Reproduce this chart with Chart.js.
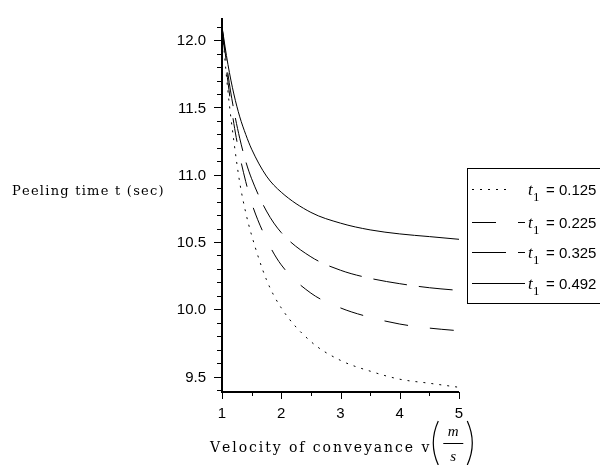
<!DOCTYPE html>
<html>
<head>
<meta charset="utf-8">
<script src="https://cdn.jsdelivr.net/npm/chart.js@4.4.1/dist/chart.umd.min.js"></script>
<style>
  html, body { margin: 0; padding: 0; background: #fff; }
</style>
</head>
<body>
<canvas id="chart" width="600" height="465"></canvas>
<script>
// --- Données ---
const velocity = [1, 1.1, 1.2, 1.3, 1.4, 1.5, 1.75, 2, 2.5, 3, 3.5, 4, 4.5, 5];
const t125 = [12.10, 11.62, 11.25, 10.94, 10.72, 10.55, 10.22, 10.01, 9.76, 9.62, 9.54, 9.48, 9.45, 9.42];
const t225 = [12.10, 11.69, 11.38, 11.14, 10.95, 10.79, 10.52, 10.33, 10.12, 10.01, 9.94, 9.89, 9.86, 9.84];
const t325 = [12.10, 11.75, 11.48, 11.27, 11.10, 10.97, 10.73, 10.57, 10.39, 10.29, 10.23, 10.19, 10.16, 10.14];
const t492 = [12.10, 11.82, 11.60, 11.43, 11.30, 11.19, 10.99, 10.87, 10.72, 10.64, 10.59, 10.56, 10.54, 10.52];
const seriesLabels = ['0.125', '0.225', '0.325', '0.492'];
const xTickLabels = [1, 2, 3, 4, 5];
const yTickLabels = [9.5, 10.0, 10.5, 11.0, 11.5, 12.0];

const dashes = [[2, 6], [24, 22], [34, 12], []];
const serif = '"DejaVu Serif", "Liberation Serif", serif';
const sans = '"Liberation Sans", Arial, sans-serif';

function toPoints(vals) {
  return vals.map((v, i) => ({ x: velocity[i], y: v }));
}

// texte étiré à une largeur donnée (police d'origine plus large)
function fitText(ctx, text, x, y, width) {
  const w = ctx.measureText(text).width;
  const sp = (width - w) / Math.max(1, text.length - 1);
  let cx = x;
  for (const ch of text) {
    ctx.fillText(ch, cx, y);
    cx += ctx.measureText(ch).width + sp;
  }
  return cx - sp;
}

// --- Axes, titres et légende dessinés à la main ---
const decor = {
  id: 'decor',
  afterDraw(chart) {
    const { ctx, chartArea: a, scales: { x, y } } = chart;
    ctx.save();
    ctx.strokeStyle = '#000';
    ctx.fillStyle = '#000';

    // axes
    const x0 = Math.round(a.left), yb = Math.round(a.bottom);
    ctx.lineWidth = 2;
    ctx.beginPath();
    ctx.moveTo(x0, a.top - 2); ctx.lineTo(x0, yb); ctx.lineTo(Math.round(a.right), yb);
    ctx.stroke();

    // graduations y
    ctx.lineWidth = 1;
    for (let k = 94; k <= 121; k++) {
      const py = Math.round(y.getPixelForValue(k / 10)) + 0.5;
      const len = k % 5 === 0 ? 8 : 5;
      ctx.beginPath(); ctx.moveTo(x0 - len, py); ctx.lineTo(x0, py); ctx.stroke();
    }
    // graduations x
    for (let k = 2; k <= 10; k++) {
      const px = Math.round(x.getPixelForValue(k / 2)) + 0.5;
      const len = k % 2 === 0 ? 7 : 4;
      ctx.beginPath(); ctx.moveTo(px, yb); ctx.lineTo(px, yb + len); ctx.stroke();
    }

    ctx.font = '15px ' + sans;
    ctx.textAlign = 'right'; ctx.textBaseline = 'middle';
    yTickLabels.forEach(v => ctx.fillText(v.toFixed(1), x0 - 16, y.getPixelForValue(v) + 1));
    ctx.textAlign = 'center'; ctx.textBaseline = 'alphabetic';
    xTickLabels.forEach(v => ctx.fillText(String(v), x.getPixelForValue(v), yb + 26));

    // titre y
    ctx.textAlign = 'left';
    ctx.font = '13px ' + serif;
    fitText(ctx, 'Peeling time t (sec)', 12, 195, 151);

    // titre x
    ctx.font = '14px ' + serif;
    const fx = fitText(ctx, 'Velocity of conveyance v', 210, 452, 218);
    // parenthèses fines
    ctx.lineWidth = 1.2;
    ctx.beginPath();
    ctx.moveTo(fx + 9, 421); ctx.quadraticCurveTo(fx - 1, 443, fx + 9, 465);
    ctx.moveTo(fx + 38, 421); ctx.quadraticCurveTo(fx + 48, 443, fx + 38, 465);
    ctx.stroke();
    ctx.lineWidth = 1;
    ctx.font = 'italic 15px "Liberation Serif", serif';
    ctx.textAlign = 'center';
    ctx.fillText('m', fx + 24, 436);
    ctx.fillText('s', fx + 24, 461);
    ctx.beginPath(); ctx.moveTo(fx + 14, 443.5); ctx.lineTo(fx + 34, 443.5); ctx.stroke();

    // légende
    const lx = 467, ly = 168, lh = 135;
    ctx.strokeRect(lx + 0.5, ly + 0.5, 200, lh);
    const rows = [189, 222, 252, 283];
    seriesLabels.forEach((lab, i) => {
      const ry = rows[i];
      ctx.setLineDash(dashes[i]);
      ctx.beginPath(); ctx.moveTo(472, ry + 0.5); ctx.lineTo(i === 0 ? 512 : 525, ry + 0.5); ctx.stroke();
      ctx.setLineDash([]);
      ctx.textAlign = 'left'; ctx.textBaseline = 'middle';
      ctx.font = 'italic 17px "Liberation Serif", serif';
      ctx.fillText('t', 528, ry + 2);
      ctx.font = '13px "Liberation Serif", serif';
      ctx.fillText('1', 533, ry + 9);
      ctx.font = '15px ' + sans;
      ctx.fillText('= ' + lab, 546, ry + 2);
    });
    ctx.restore();
  }
};

const chart = new Chart(document.getElementById('chart'), {
  type: 'line',
  data: {
    datasets: [t125, t225, t325, t492].map((vals, i) => ({
      label: 't1 = ' + seriesLabels[i],
      data: toPoints(vals),
      borderColor: '#000',
      borderWidth: 1,
      borderDash: dashes[i],
      pointRadius: 0,
      cubicInterpolationMode: 'monotone',
      fill: false
    }))
  },
  options: {
    responsive: false,
    animation: false,
    devicePixelRatio: 1,
    layout: { padding: { left: 222, right: 141, top: 20, bottom: 73 } },
    plugins: { legend: { display: false }, tooltip: { enabled: false } },
    scales: {
      x: { type: 'linear', min: 1, max: 5, display: false },
      y: { type: 'linear', min: 9.385, max: 12.15, display: false }
    }
  },
  plugins: [decor]
});
</script>
</body>
</html>
